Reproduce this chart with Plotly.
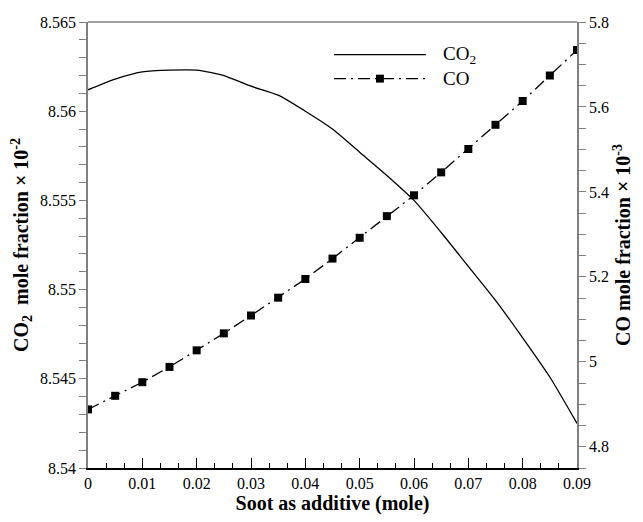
import plotly.graph_objects as go

soot = [0, 0.005, 0.01, 0.015, 0.02, 0.025, 0.03, 0.035, 0.04, 0.045,
        0.05, 0.055, 0.06, 0.065, 0.07, 0.075, 0.08, 0.085, 0.09]
co2 = [8.5612, 8.5618, 8.5622, 8.5623, 8.5623, 8.5620, 8.5614, 8.5609, 8.5600, 8.5590,
       8.5577, 8.5564, 8.5550, 8.5532, 8.5513, 8.5494, 8.5473, 8.5451, 8.5425]
co = [4.888, 4.920, 4.952, 4.988, 5.027, 5.067, 5.109, 5.151, 5.195, 5.243,
      5.292, 5.343, 5.392, 5.446, 5.501, 5.558, 5.614, 5.674, 5.734]

x_ticks = [0, 0.01, 0.02, 0.03, 0.04, 0.05, 0.06, 0.07, 0.08, 0.09]
x_labels = ["0", "0.01", "0.02", "0.03", "0.04", "0.05", "0.06", "0.07", "0.08", "0.09"]
y1_ticks = [8.54, 8.545, 8.55, 8.555, 8.56, 8.565]
y1_labels = ["8.54", "8.545", "8.55", "8.555", "8.56", "8.565"]
y2_ticks = [4.8, 5.0, 5.2, 5.4, 5.6, 5.8]
y2_labels = ["4.8", "5", "5.2", "5.4", "5.6", "5.8"]
series_names = ["CO<sub>2</sub>", "CO"]

FONT = "Liberation Serif, Times New Roman, serif"
GRAY = "#808080"
DASH = "12px,5px,2px,5px"
TICKFONT = dict(family=FONT, size=16, color="black")
TITLEFONT = dict(family=FONT, size=20, color="black")

fig = go.Figure()
fig.add_trace(go.Scatter(x=soot, y=co2, mode="lines", name=series_names[0],
                         line=dict(color="black", width=1.3, shape="spline", smoothing=0.6),
                         yaxis="y"))
fig.add_trace(go.Scatter(x=soot, y=co, mode="lines+markers", name=series_names[1],
                         line=dict(color="black", width=1.3, dash=DASH),
                         marker=dict(symbol="square", size=8, color="black"),
                         yaxis="y2"))

fig.update_layout(
    width=643, height=522,
    margin=dict(l=88, r=60, t=22, b=50),
    plot_bgcolor="white", paper_bgcolor="white",
    font=dict(family=FONT, size=16, color="black"),
    showlegend=False,
    xaxis=dict(range=[0, 0.09], tickvals=x_ticks, ticktext=x_labels, tickfont=TICKFONT,
               ticks="inside", ticklen=10, tickcolor="black", tickwidth=1,
               showline=True, linecolor="black", linewidth=1.5,
               mirror=False, showgrid=False, zeroline=False,
               minor=dict(dtick=0.01 / 3, ticks="inside", ticklen=5, tickcolor="black"),
               title=dict(text="<b>Soot as additive (mole)</b>", font=TITLEFONT, standoff=4)),
    yaxis=dict(range=[8.54, 8.565], tickvals=y1_ticks, ticktext=y1_labels, tickfont=TICKFONT,
               ticks="outside", ticklen=7, tickcolor=GRAY, tickwidth=1,
               showline=True, linecolor=GRAY, linewidth=1.5,
               showgrid=False, zeroline=False,
               minor=dict(dtick=0.001, ticks="outside", ticklen=7, tickcolor=GRAY),
               title=dict(text="<b>CO<sub>2</sub>  mole fraction × 10<sup>-2</sup></b>",
                          font=TITLEFONT, standoff=6)),
    yaxis2=dict(range=[4.75, 5.8], tickvals=y2_ticks, ticktext=y2_labels, tickfont=TICKFONT,
                overlaying="y", side="right",
                ticks="outside", ticklen=7, tickcolor=GRAY, tickwidth=1,
                showline=True, linecolor=GRAY, linewidth=1.5,
                showgrid=False, zeroline=False,
                minor=dict(dtick=0.05, ticks="outside", ticklen=7, tickcolor=GRAY),
                title=dict(text="<b>CO mole fraction × 10<sup>-3</sup></b>",
                           font=TITLEFONT, standoff=8)),
)
# top border
fig.add_shape(type="line", xref="paper", yref="paper", x0=0, x1=1, y0=1, y1=1,
              line=dict(color=GRAY, width=1.5))

# manual legend (long sample lines as in the reference)
leg_x0, leg_x1, leg_tx = 0.503, 0.691, 0.722
leg_y = [0.927, 0.873]
fig.add_shape(type="line", xref="paper", yref="paper", x0=leg_x0, x1=leg_x1,
              y0=leg_y[0], y1=leg_y[0], line=dict(color="black", width=1.3))
fig.add_shape(type="line", xref="paper", yref="paper", x0=leg_x0, x1=leg_x1,
              y0=leg_y[1], y1=leg_y[1], line=dict(color="black", width=1.3, dash=DASH))
mx = (leg_x0 + leg_x1) / 2
fig.add_shape(type="rect", xref="paper", yref="paper",
              x0=mx - 4 / 495, x1=mx + 4 / 495, y0=leg_y[1] - 4 / 450, y1=leg_y[1] + 4 / 450,
              fillcolor="black", line=dict(width=0))
for yy, name in zip(leg_y, series_names):
    fig.add_annotation(xref="paper", yref="paper", x=leg_tx, y=yy, text=name,
                       showarrow=False, xanchor="left", yanchor="middle",
                       font=dict(family=FONT, size=19, color="black"))

fig.write_html("out.html")
